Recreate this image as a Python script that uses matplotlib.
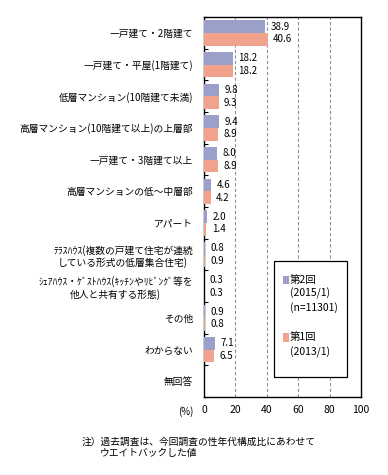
import numpy as np
import matplotlib
matplotlib.use('Agg')
import matplotlib.pyplot as plt
from matplotlib.patches import Rectangle

plt.rcParams['font.family'] = ['Noto Sans CJK JP', 'DejaVu Sans']

categories = [
    '一戸建て・2階建て',
    '一戸建て・平屋(1階建て)',
    '低層マンション(10階建て未満)',
    '高層マンション(10階建て以上)の上層部',
    '一戸建て・3階建て以上',
    '高層マンションの低～中層部',
    'アパート',
    'ﾃﾗｽﾊｳｽ(複数の戸建て住宅が連続\nしている形式の低層集合住宅)',
    'ｼｪｱﾊｳｽ・ｹﾞｽﾄﾊｳｽ(ｷｯﾁﾝやﾘﾋﾞﾝｸﾞ等を\n他人と共有する形態)',
    'その他',
    'わからない',
    '無回答',
]
survey2 = [38.9, 18.2, 9.8, 9.4, 8.0, 4.6, 2.0, 0.8, 0.3, 0.9, 7.1, np.nan]
survey1 = [40.6, 18.2, 9.3, 8.9, 8.9, 4.2, 1.4, 0.9, 0.3, 0.8, 6.5, np.nan]
xticks = [0, 20, 40, 60, 80, 100]

blue = '#9aa0c9'
salmon = '#f0a28c'

fig = plt.figure(figsize=(3.88, 4.75), dpi=100)
ax = fig.add_axes([0.5258, 0.1642, 0.4046, 0.8])

n = len(categories)
y = np.arange(n)
h = 0.4
v2 = np.array(survey2)
v1 = np.array(survey1)
ax.barh(y - h / 2, np.nan_to_num(v2), height=h, color=blue, zorder=3)
ax.barh(y + h / 2, np.nan_to_num(v1), height=h, color=salmon, zorder=3)

for yi, a, b in zip(y, v2, v1):
    if not np.isnan(a):
        ax.text(a + 3.5, yi - h / 2, f'{a:.1f}', va='center', ha='left', fontsize=7)
    if not np.isnan(b):
        ax.text(b + 3.5, yi + h / 2, f'{b:.1f}', va='center', ha='left', fontsize=7)

ax.set_xlim(0, 100)
ax.set_ylim(n - 0.5, -0.5)
ax.set_xticks(xticks)
ax.set_xticklabels([str(t) for t in xticks], fontsize=7.5)
ax.tick_params(axis='x', length=0, pad=6)
for t in xticks[1:-1]:
    ax.axvline(t, color='#909090', linestyle=(0, (3, 2)), linewidth=0.8, zorder=1)

ax.set_yticks(y)
ax.set_yticklabels(categories, fontsize=7, multialignment='center')
ax.tick_params(axis='y', length=0, pad=8)
ax.set_yticks(np.arange(n + 1) - 0.5, minor=True)
ax.tick_params(axis='y', which='minor', direction='in', length=3, width=0.8)

for s in ax.spines.values():
    s.set_linewidth(1.0)
    s.set_color('black')

ax.text(-0.07, -0.037, '(%)', transform=ax.transAxes, ha='right', va='center', fontsize=7)

# legend box
ax.add_patch(Rectangle((0.445, 0.052), 0.465, 0.305, transform=ax.transAxes,
                       facecolor='white', edgecolor='black', linewidth=0.9, zorder=5))
lx = 0.5
tx = lx + 0.045
ax.add_patch(Rectangle((lx, 0.297), 0.04, 0.022, transform=ax.transAxes,
                       facecolor=blue, edgecolor='none', zorder=6))
ax.text(tx, 0.308, '第2回', transform=ax.transAxes, va='center', fontsize=7.5, zorder=6)
ax.text(tx, 0.272, '(2015/1)', transform=ax.transAxes, va='center', fontsize=7.5, zorder=6)
ax.text(tx, 0.236, '(n=11301)', transform=ax.transAxes, va='center', fontsize=7.5, zorder=6)
ax.add_patch(Rectangle((lx, 0.146), 0.04, 0.022, transform=ax.transAxes,
                       facecolor=salmon, edgecolor='none', zorder=6))
ax.text(tx, 0.157, '第1回', transform=ax.transAxes, va='center', fontsize=7.5, zorder=6)
ax.text(tx, 0.118, '(2013/1)', transform=ax.transAxes, va='center', fontsize=7.5, zorder=6)

fig.text(0.211, 0.069, '注）過去調査は、今回調査の性年代構成比にあわせて', fontsize=7, va='center')
fig.text(0.258, 0.046, 'ウエイトバックした値', fontsize=7, va='center')

fig.savefig('out.png', dpi=100)
